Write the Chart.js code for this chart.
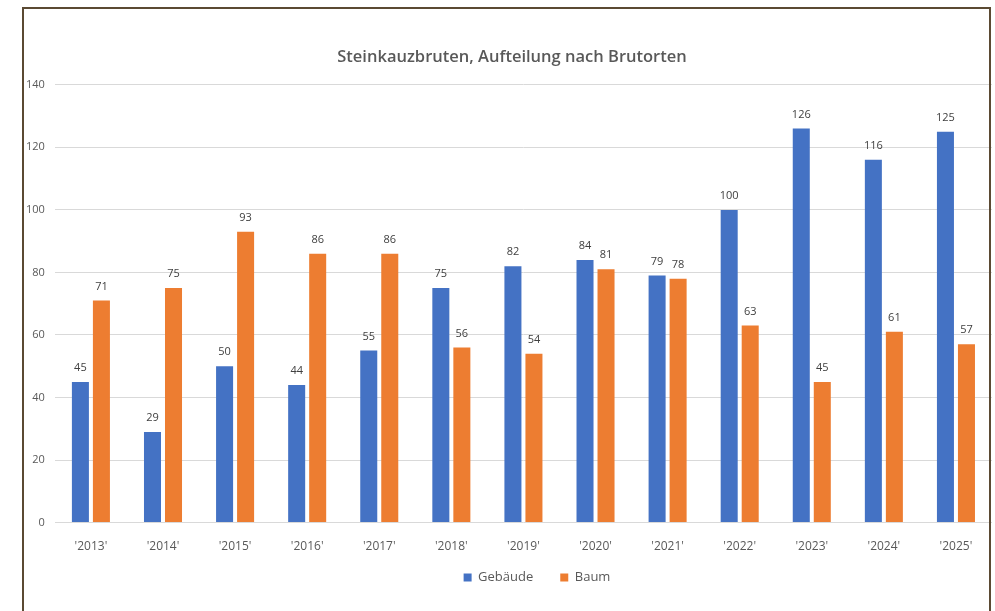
<!DOCTYPE html>
<html>
<head>
<meta charset="utf-8">
<script src="https://cdn.jsdelivr.net/npm/chart.js@4/dist/chart.umd.min.js"></script>
<style>
  html, body { margin: 0; padding: 0; background: #fff; }
  #wrap { position: absolute; left: 0; top: 0; width: 995px; height: 611px; }
</style>
</head>
<body>
<div id="wrap"><canvas id="chart" width="995" height="611"></canvas></div>
<script>
// Steinkauzbruten per year, split by nesting site
const years = ["'2013'", "'2014'", "'2015'", "'2016'", "'2017'", "'2018'", "'2019'",
  "'2020'", "'2021'", "'2022'", "'2023'", "'2024'", "'2025'"];
const gebaeude = [45, 29, 50, 44, 55, 75, 82, 84, 79, 100, 126, 116, 125];
const baum = [71, 75, 93, 86, 86, 56, 54, 81, 78, 63, 45, 61, 57];

const FONT = "'Open Sans', 'Noto Sans', sans-serif";
const TEXT_GREY = '#595959';

// Frame around the whole picture
const framePlugin = {
  id: 'frame',
  afterDraw(chart) {
    const ctx = chart.ctx;
    ctx.save();
    ctx.strokeStyle = '#5b4a33';
    ctx.lineWidth = 2;
    ctx.strokeRect(23, 8, 967, 620);
    ctx.restore();
  }
};

// Excel puts title and legend a bit right of centre; legend sits a bit higher too
const nudgePlugin = {
  id: 'nudge',
  afterLayout(chart) {
    chart.titleBlock.left += 8;
    chart.titleBlock.right += 8;
    chart.legend.left += 33;
    chart.legend.right += 33;
    chart.legend.top -= 27;
    chart.legend.bottom -= 27;
  }
};

// Value labels above each bar
const valueLabels = {
  id: 'valueLabels',
  afterDatasetsDraw(chart) {
    const ctx = chart.ctx;
    ctx.save();
    ctx.font = '11px ' + FONT;
    ctx.fillStyle = '#404040';
    ctx.textAlign = 'center';
    ctx.textBaseline = 'middle';
    chart.data.datasets.forEach((ds, i) => {
      chart.getDatasetMeta(i).data.forEach((bar, j) => {
        ctx.fillText(ds.data[j], bar.x, bar.y - 14);
      });
    });
    ctx.restore();
  }
};

new Chart(document.getElementById('chart'), {
  type: 'bar',
  data: {
    labels: years,
    datasets: [
      { label: 'Gebäude', data: gebaeude, backgroundColor: '#4472C4' },
      { label: 'Baum', data: baum, backgroundColor: '#ED7D31' }
    ]
  },
  options: {
    responsive: false,
    animation: false,
    layout: { padding: { left: 16, right: 3, top: 47, bottom: -10 } },
    datasets: {
      bar: { categoryPercentage: 0.583, barPercentage: 0.81 }
    },
    plugins: {
      title: {
        display: true,
        text: 'Steinkauzbruten, Aufteilung nach Brutorten',
        color: TEXT_GREY,
        font: { family: FONT, size: 16.5, weight: '600' },
        padding: { top: 0, bottom: 18 }
      },
      legend: {
        position: 'bottom',
        labels: {
          color: TEXT_GREY,
          font: { family: FONT, size: 13 },
          boxWidth: 8,
          boxHeight: 8,
          padding: 27
        }
      },
      tooltip: { enabled: false }
    },
    scales: {
      x: {
        grid: { display: false, drawTicks: false, tickLength: 0 },
        border: { display: false },
        ticks: { color: TEXT_GREY, font: { family: FONT, size: 12 }, padding: 17 }
      },
      y: {
        min: 0,
        max: 140,
        ticks: { stepSize: 20, color: TEXT_GREY, font: { family: FONT, size: 11 }, padding: 10 },
        grid: { color: '#d9d9d9', drawTicks: false },
        border: { display: false }
      }
    }
  },
  plugins: [framePlugin, nudgePlugin, valueLabels]
});
</script>
</body>
</html>
